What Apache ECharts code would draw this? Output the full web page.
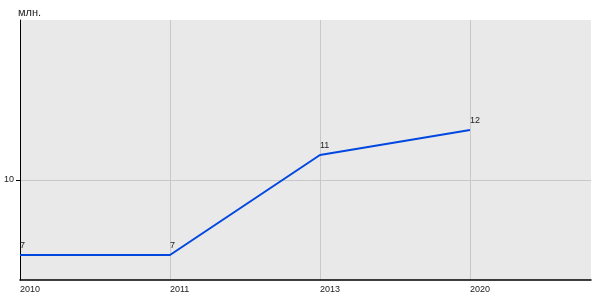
<!DOCTYPE html>
<html>
<head>
<meta charset="utf-8">
<script src="https://cdn.jsdelivr.net/npm/echarts@6/dist/echarts.min.js"></script>
<style>
html,body{margin:0;padding:0;background:#fff;}
#chart{width:600px;height:300px;}
</style>
</head>
<body>
<div id="chart"></div>
<script>
const years = ['2010', '2011', '2013', '2020'];
const values = [7, 7, 11, 12];
const yTickValues = [10];
const unitLabel = 'млн.';

const chart = echarts.init(document.getElementById('chart'), null, {renderer: 'canvas'});
const font = '"Liberation Sans", Arial, sans-serif';
chart.setOption({
  animation: false,
  backgroundColor: '#ffffff',
  grid: {
    left: 20, right: 9, top: 20, bottom: 20,
    outerBoundsMode: 'none',
    containLabel: false,
    show: true,
    backgroundColor: '#e9e9e9',
    borderWidth: 0
  },
  graphic: [{
    type: 'text', left: 18, top: 7,
    style: {text: unitLabel, font: '11px ' + font, fill: '#222'}
  }],
  xAxis: {
    type: 'value',
    min: 0,
    max: 3.807,
    axisLine: {show: true, onZero: false, lineStyle: {color: '#000', width: 1.5}},
    axisTick: {show: false, customValues: years.map((_, i) => i)},
    axisLabel: {
      customValues: years.map((_, i) => i),
      formatter: v => years[v] || '',
      align: 'left',
      margin: 5,
      color: '#222',
      fontSize: 9,
      fontFamily: font
    },
    splitLine: {show: true, lineStyle: {color: '#c8c8c8', width: 1}}
  },
  yAxis: {
    type: 'value',
    min: 6,
    max: 16.4,
    axisLine: {show: true, onZero: false, lineStyle: {color: '#000', width: 1}},
    axisTick: {show: true, length: 4, customValues: yTickValues, lineStyle: {color: '#000'}},
    axisLabel: {
      customValues: yTickValues,
      margin: 6,
      color: '#222',
      fontSize: 9,
      fontFamily: font
    },
    splitLine: {show: true, lineStyle: {color: '#c8c8c8', width: 1}}
  },
  series: [{
    type: 'line',
    data: values.map((v, i) => [i, v]),
    symbol: 'circle',
    symbolSize: 1,
    itemStyle: {color: 'rgba(0,0,0,0)', borderWidth: 0},
    lineStyle: {color: '#0047e0', width: 2},
    label: {
      show: true,
      position: 'top',
      align: 'left',
      distance: 4,
      color: '#222',
      fontSize: 9,
      fontFamily: font
    },
    emphasis: {disabled: true}
  }]
});
</script>
</body>
</html>
